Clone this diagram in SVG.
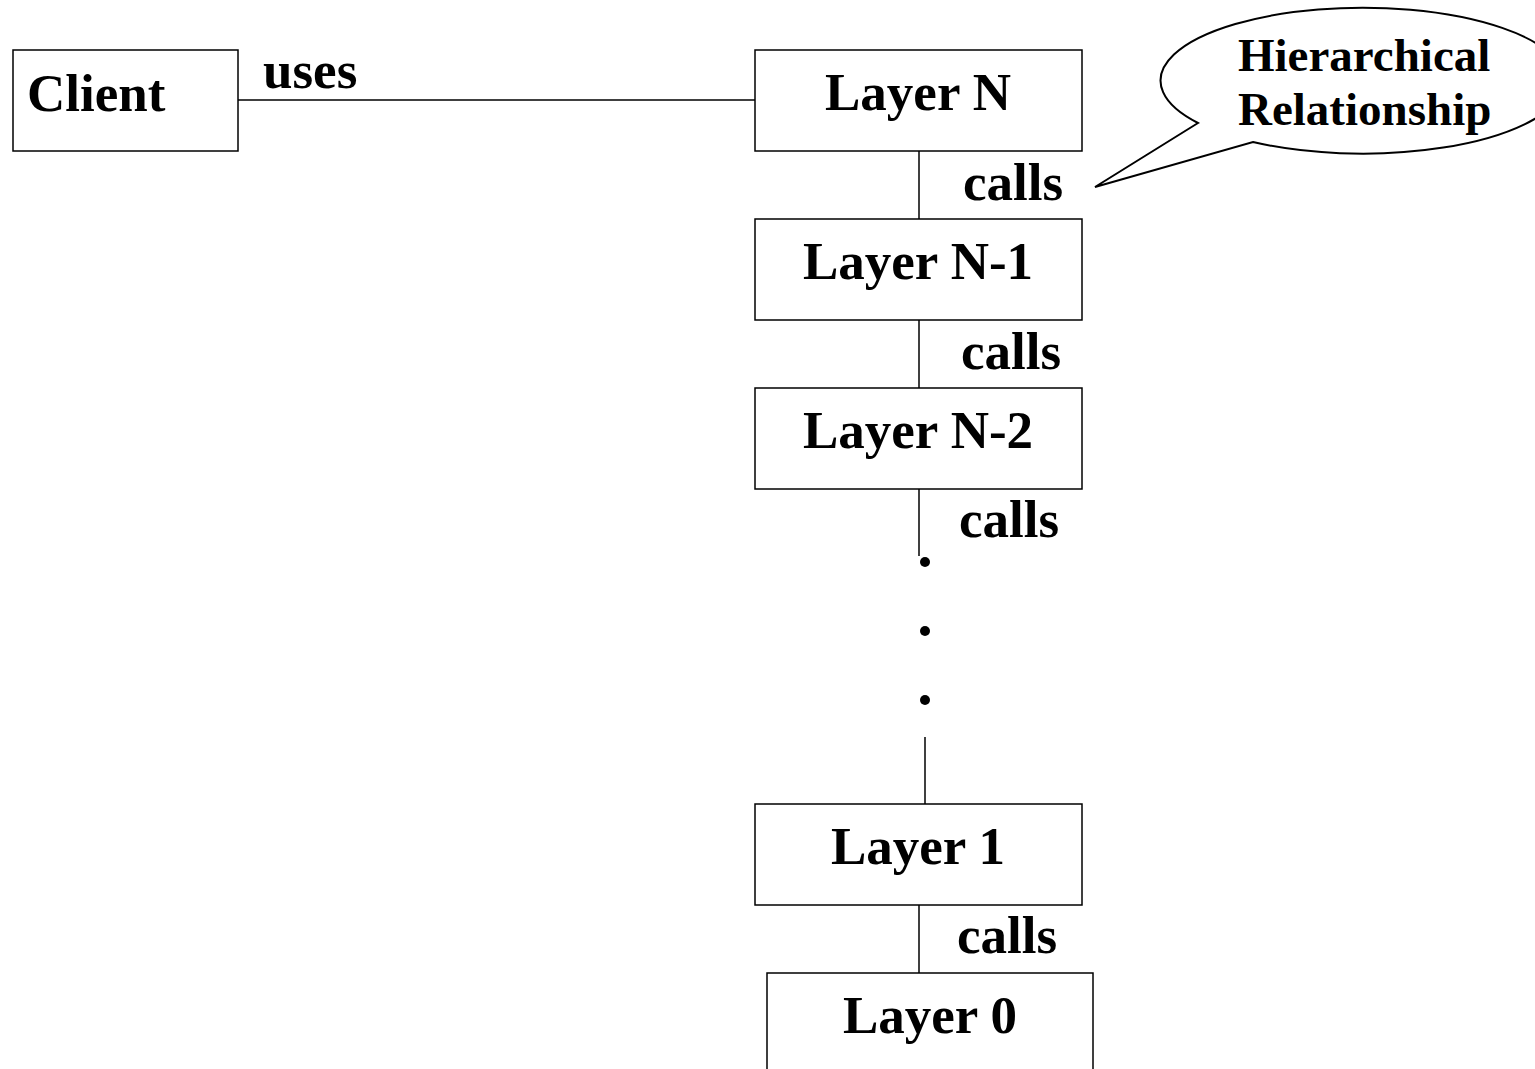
<svg xmlns="http://www.w3.org/2000/svg" width="1535" height="1069" viewBox="0 0 1535 1069">
<style>
.box{fill:#fff;stroke:#000;stroke-width:1.5}
.t{font-family:"Liberation Serif","Times New Roman",serif;font-weight:bold;font-size:53px;fill:#000}
.m{text-anchor:middle}
.c line{stroke:#000;stroke-width:1.5}
</style>
<rect width="1535" height="1069" fill="#fff"/>
<g id="connectors" class="c">
<line x1="238" y1="100" x2="755" y2="100"/>
<line x1="919" y1="151" x2="919" y2="219"/>
<line x1="919" y1="320" x2="919" y2="388"/>
<line x1="919" y1="489" x2="919" y2="556"/>
<line x1="925" y1="737" x2="925" y2="804"/>
<line x1="919" y1="905" x2="919" y2="973"/>
<circle cx="925" cy="562" r="5"/>
<circle cx="925" cy="631" r="5"/>
<circle cx="925" cy="700" r="5"/>
<text class="t" x="263" y="88">uses</text>
<text class="t" x="963" y="200">calls</text>
<text class="t" x="961" y="369">calls</text>
<text class="t" x="959" y="537">calls</text>
<text class="t" x="957" y="953">calls</text>
</g>
<g id="client"><rect class="box" x="13" y="50" width="225" height="101"/><text class="t" x="27" y="111">Client</text></g>
<g id="layerN"><rect class="box" x="755" y="50" width="327" height="101"/><text class="t m" x="918" y="110">Layer N</text></g>
<g id="layerN1"><rect class="box" x="755" y="219" width="327" height="101"/><text class="t m" x="918" y="279">Layer N-1</text></g>
<g id="layerN2"><rect class="box" x="755" y="388" width="327" height="101"/><text class="t m" x="918" y="448">Layer N-2</text></g>
<g id="layer1"><rect class="box" x="755" y="804" width="327" height="101"/><text class="t m" x="918" y="864">Layer 1</text></g>
<g id="layer0"><rect class="box" x="767" y="973" width="326" height="110"/><text class="t m" x="930" y="1033">Layer 0</text></g>
<g id="callout">
<path d="M1198,123 L1095,187 L1253,142 A202,73 0 1 0 1198,123 Z" fill="#fff" stroke="#000" stroke-width="2"/>
<text class="t" x="1238" y="71" style="font-size:47px">Hierarchical</text>
<text class="t" x="1238" y="125" style="font-size:47px">Relationship</text>
</g>
</svg>
